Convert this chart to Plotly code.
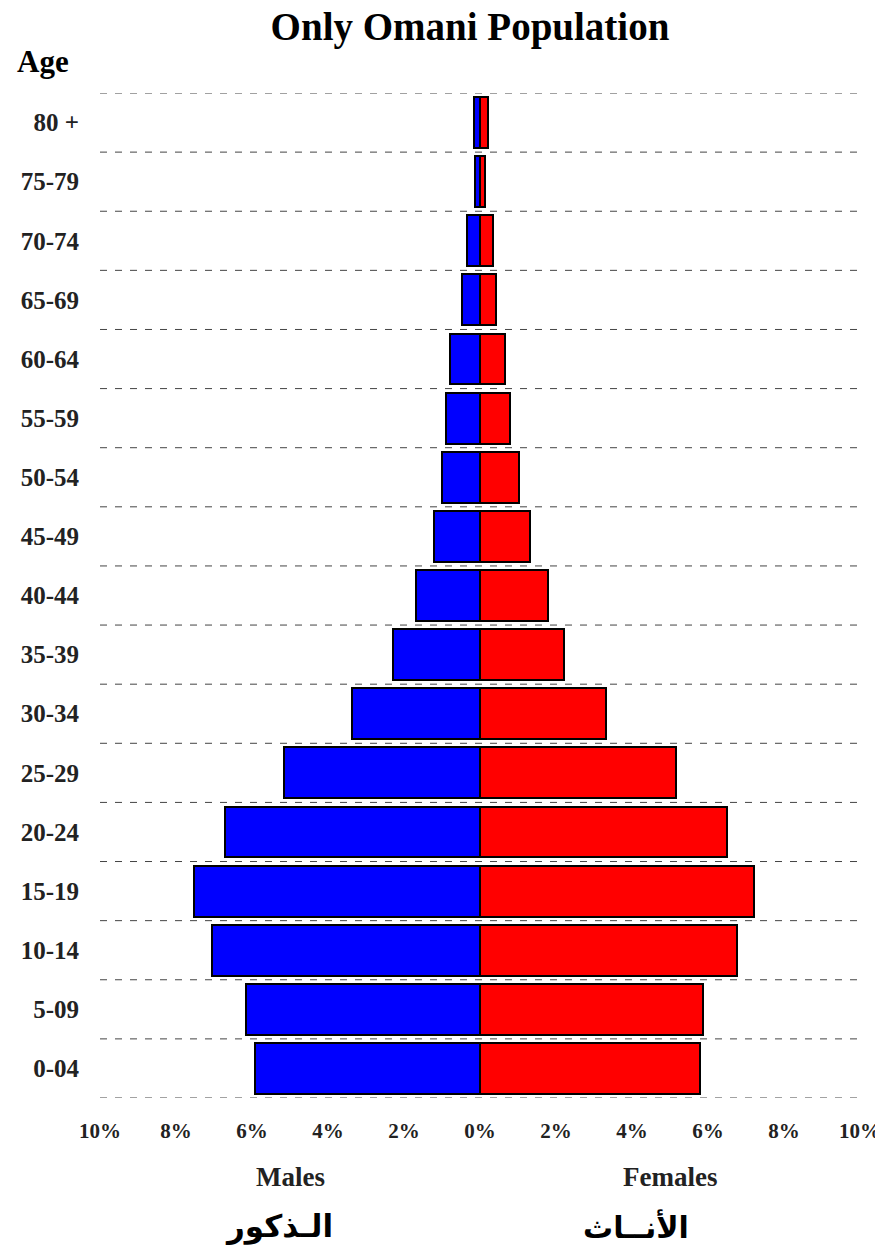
import plotly.graph_objects as go

# ---- data ----
age_groups = ["0-04", "5-09", "10-14", "15-19", "20-24", "25-29", "30-34", "35-39",
              "40-44", "45-49", "50-54", "55-59", "60-64", "65-69", "70-74", "75-79", "80 +"]
males_pct = [5.91, 6.15, 7.04, 7.52, 6.71, 5.16, 3.37, 2.30,
             1.69, 1.22, 1.01, 0.90, 0.79, 0.48, 0.35, 0.14, 0.17]
females_pct = [5.78, 5.88, 6.77, 7.22, 6.49, 5.17, 3.31, 2.22,
               1.80, 1.32, 1.03, 0.79, 0.65, 0.42, 0.33, 0.12, 0.22]
tick_values = [-10, -8, -6, -4, -2, 0, 2, 4, 6, 8, 10]
tick_labels = ["10%", "8%", "6%", "4%", "2%", "0%", "2%", "4%", "6%", "8%", "10%"]

SERIF = "Liberation Serif"
ARABIC = "DejaVu Sans"

fig = go.Figure()
fig.add_trace(go.Bar(
    y=age_groups, x=[-v for v in males_pct], orientation="h", name="Males",
    marker=dict(color="#0000FF", line=dict(color="black", width=2)), width=0.86,
))
fig.add_trace(go.Bar(
    y=age_groups, x=females_pct, orientation="h", name="Females",
    marker=dict(color="#FF0000", line=dict(color="black", width=2)), width=0.86,
))

# dashed separators between age groups
for i in range(len(age_groups) + 1):
    fig.add_shape(type="line", xref="paper", x0=0, x1=1, yref="y",
                  y0=i - 0.5, y1=i - 0.5, layer="below",
                  line=dict(color="#444444", width=1, dash="7px,8px"))

# page body has an 8px margin, so the figure is 8px smaller than the window
W, H = 875, 1244
fig.update_layout(
    width=W, height=H,
    margin=dict(l=92, r=23, t=85, b=154, autoexpand=False),
    paper_bgcolor="white", plot_bgcolor="white",
    barmode="relative", bargap=0, showlegend=False,
    title=dict(text="Only Omani Population", x=0.528, xanchor="center",
               y=1 - 18 / H, yanchor="middle", yref="container",
               font=dict(family=SERIF, size=39, color="black", weight="bold")),
    xaxis=dict(range=[-10, 10], tickvals=tick_values, ticktext=tick_labels,
               showgrid=False, zeroline=False, showline=False, ticks="",
               ticklabelstandoff=18, automargin=False,
               tickfont=dict(family=SERIF, size=21, color="#222222", weight="bold")),
    yaxis=dict(categoryorder="array", categoryarray=age_groups,
               range=[-0.5, len(age_groups) - 0.5],
               showgrid=False, zeroline=False, showline=False, ticks="",
               ticklabelstandoff=20, automargin=False,
               tickfont=dict(family=SERIF, size=25, color="#222222", weight="bold")),
)

fig.add_annotation(text="Age", xref="paper", yref="paper", x=-0.075, y=1 + 31 / 1005,
                   xanchor="center", yanchor="middle", showarrow=False,
                   font=dict(family=SERIF, size=31, color="black", weight="bold"))
fig.add_annotation(text="Males", xref="x", yref="paper", x=-5, y=-79 / 1005,
                   xanchor="center", yanchor="middle", showarrow=False,
                   font=dict(family=SERIF, size=27, color="#222222", weight="bold"))
fig.add_annotation(text="Females", xref="x", yref="paper", x=5, y=-79 / 1005,
                   xanchor="center", yanchor="middle", showarrow=False,
                   font=dict(family=SERIF, size=27, color="#222222", weight="bold"))
fig.add_annotation(text="الـذكور", xref="x", yref="paper", x=-5.3, y=-129 / 1005,
                   xanchor="center", yanchor="middle", showarrow=False,
                   font=dict(family=ARABIC, size=31, color="black", weight="bold"))
fig.add_annotation(text="الأنــاث", xref="x", yref="paper", x=4.1, y=-129 / 1005,
                   xanchor="center", yanchor="middle", showarrow=False,
                   font=dict(family=ARABIC, size=30, color="black", weight="bold"))

fig.write_html("out.html")
